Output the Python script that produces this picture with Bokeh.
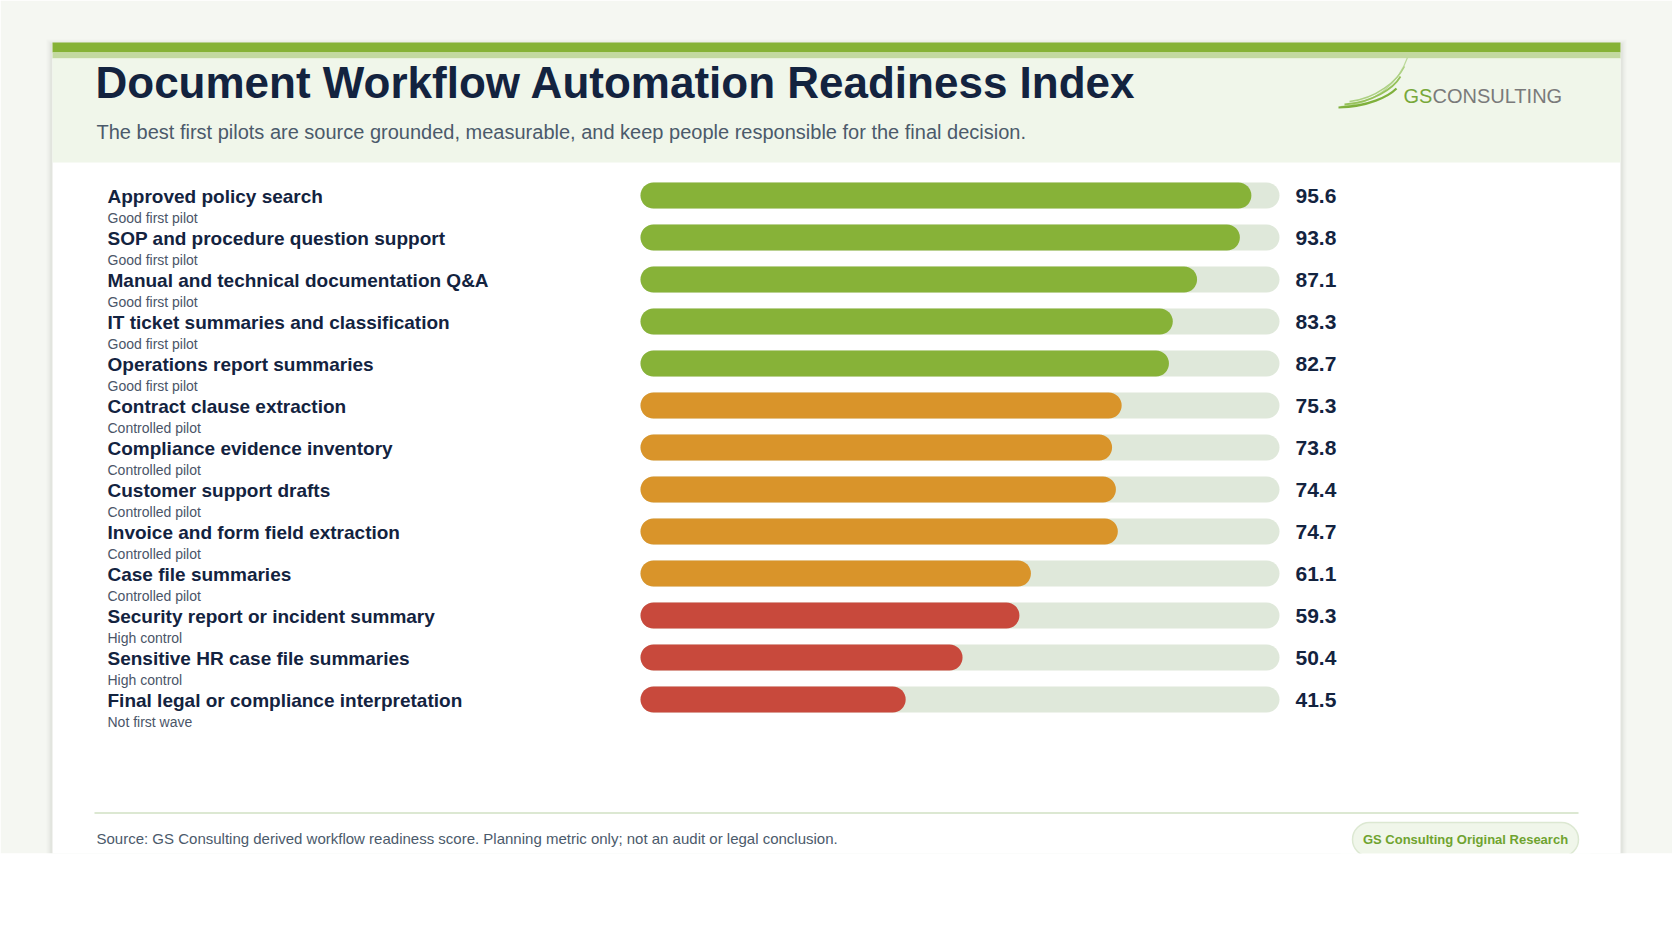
from bokeh.plotting import figure
from bokeh.models import Range1d, ColumnDataSource
from bokeh.core.properties import value
from bokeh.embed import file_html
from bokeh.resources import INLINE

# ---------------- data ----------------
tasks = [
    "Approved policy search",
    "SOP and procedure question support",
    "Manual and technical documentation Q&A",
    "IT ticket summaries and classification",
    "Operations report summaries",
    "Contract clause extraction",
    "Compliance evidence inventory",
    "Customer support drafts",
    "Invoice and form field extraction",
    "Case file summaries",
    "Security report or incident summary",
    "Sensitive HR case file summaries",
    "Final legal or compliance interpretation",
]
tiers = [
    "Good first pilot", "Good first pilot", "Good first pilot", "Good first pilot", "Good first pilot",
    "Controlled pilot", "Controlled pilot", "Controlled pilot", "Controlled pilot", "Controlled pilot",
    "High control", "High control", "Not first wave",
]
scores = [95.6, 93.8, 87.1, 83.3, 82.7, 75.3, 73.8, 74.4, 74.7, 61.1, 59.3, 50.4, 41.5]
tier_colors = {
    "Good first pilot": "#87b238",
    "Controlled pilot": "#d9942a",
    "High control": "#c8493c",
    "Not first wave": "#c8493c",
}
score_max = 100

title = "Document Workflow Automation Readiness Index"
subtitle = ("The best first pilots are source grounded, measurable, and keep people "
            "responsible for the final decision.")
source_note = ("Source: GS Consulting derived workflow readiness score. Planning metric only; "
               "not an audit or legal conclusion.")
badge_text = "GS Consulting Original Research"

# ---------------- layout ----------------
W, H = 1672, 941
TRACK_X0, TRACK_W = 640, 639          # pixel span of the 0..100 track
ROW0, ROW_STEP = 195, 42              # pixel centre of first row, row pitch
PXU = TRACK_W / score_max             # pixels per score unit
BL = 0.34                             # baseline correction (em) for svg text

def X(px):
    return (px - TRACK_X0) / PXU

def Y(py):
    return (py - ROW0) / ROW_STEP

def TY(py, fs):
    return Y(py - BL * fs)

FONT = value("Liberation Sans")

p = figure(width=W, height=H, output_backend="svg", toolbar_location=None,
           x_range=Range1d(X(0), X(W)), y_range=Range1d(Y(H), Y(0)),
           x_axis_location=None, y_axis_location=None, min_border=0,
           outline_line_color=None, background_fill_color="white",
           border_fill_color="white")
p.grid.visible = False

def box(l, r, t, b, color, alpha=1.0, radius=0, line_color=None, lw=1):
    p.quad(left=[X(l)], right=[X(r)], top=[Y(t)], bottom=[Y(b)], fill_color=color,
           fill_alpha=alpha, line_color=line_color, line_width=lw, border_radius=radius)

# page background (screenshot area) and card
box(0, W, 0, 853, "#f5f7f2")
for i, a in enumerate([0.025, 0.025, 0.03, 0.035, 0.04]):
    d = 6 - i
    box(52 - d, 1620 + d, 43 - d + 2, 853, "#7a8a70", alpha=a)
box(52, 1620, 43, 853, "white")
box(0, W, 853, H, "white")

# header
box(52, 1620, 42, 52, "#86b236")
box(52, 1620, 52, 58, "#c3d9a0")
box(52, 1620, 58, 162, "#f0f6ea")

p.text(x=[X(95)], y=[TY(97, 44)], text=[title], text_font=FONT, text_font_size="44px",
       text_font_style="bold", text_color="#13233f", text_baseline="alphabetic")
p.text(x=[X(96)], y=[TY(138, 20)], text=[subtitle], text_font=FONT, text_font_size="20px",
       text_color="#4b5a6b", text_baseline="alphabetic")

# logo
p.bezier(x0=[X(1340), X(1338), X(1344), X(1349)],
         y0=[Y(106), Y(107), Y(104), Y(101)],
         x1=[X(1407), X(1396), X(1400), X(1404)],
         y1=[Y(57), Y(88), Y(76), Y(66)],
         cx0=[X(1378), X(1368), X(1372), X(1376)],
         cy0=[Y(103), Y(106), Y(102), Y(98)],
         cx1=[X(1399), X(1388), X(1393), X(1397)],
         cy1=[Y(80), Y(96), Y(88), Y(80)],
         line_color=["#bcd99a", "#7fb03c", "#96c25a", "#acd082"],
         line_width=[1.2, 2.2, 1.8, 1.4])
p.text(x=[X(1403)], y=[TY(102, 20)], text=["GS"], text_font=FONT, text_font_size="20px",
       text_color="#78a83a", text_baseline="alphabetic")
p.text(x=[X(1432)], y=[TY(102, 20)], text=["CONSULTING"], text_font=FONT,
       text_font_size="20px", text_color="#7a7a7a", text_baseline="alphabetic")

# ---------------- bars ----------------
rows = list(range(len(tasks)))
src = ColumnDataSource(dict(
    y=rows,
    score=scores,
    full=[score_max] * len(tasks),
    task=tasks,
    tier=tiers,
    color=[tier_colors[t] for t in tiers],
    label=[f"{s:.1f}" for s in scores],
))
bar_h = 26 / ROW_STEP
p.hbar(y="y", left=0, right="full", height=bar_h, source=src, fill_color="#dfe8da",
       line_color=None, border_radius=13)
p.hbar(y="y", left=0, right="score", height=bar_h, source=src, fill_color="color",
       line_color=None, border_radius=13)

p.text(x=X(107), y="y", text="task", source=src, text_font=FONT, text_font_size="19px",
       text_font_style="bold", text_color="#13233f", text_baseline="alphabetic",
       y_offset=7 - BL * 19)
p.text(x=X(107), y="y", text="tier", source=src, text_font=FONT, text_font_size="14px",
       text_color="#4a5568", text_baseline="alphabetic", y_offset=27.5 - BL * 14)
p.text(x=score_max, y="y", text="label", source=src, text_font=FONT, text_font_size="21px",
       text_font_style="bold", text_color="#13233f", text_baseline="alphabetic",
       x_offset=16, y_offset=7.5 - BL * 21)

# ---------------- footer ----------------
p.line(x=[X(94), X(1578)], y=[Y(812.5), Y(812.5)], line_color="#dce8d2", line_width=2)
p.text(x=[X(96)], y=[TY(843.5, 15)], text=[source_note], text_font=FONT, text_font_size="15px",
       text_color="#4b5a6b", text_baseline="alphabetic")
box(1352, 1578, 822, 856, "#f0f6ea", radius=17, line_color="#dce8d2", lw=1.5)
box(1340, 1590, 853, H, "white")
p.text(x=[X(1465)], y=[TY(843.5, 13)], text=[badge_text], text_font=FONT, text_font_size="13px",
       text_font_style="bold", text_color="#6fa32f", text_baseline="alphabetic",
       text_align="center")

open("out.html", "w").write(file_html(p, INLINE))
